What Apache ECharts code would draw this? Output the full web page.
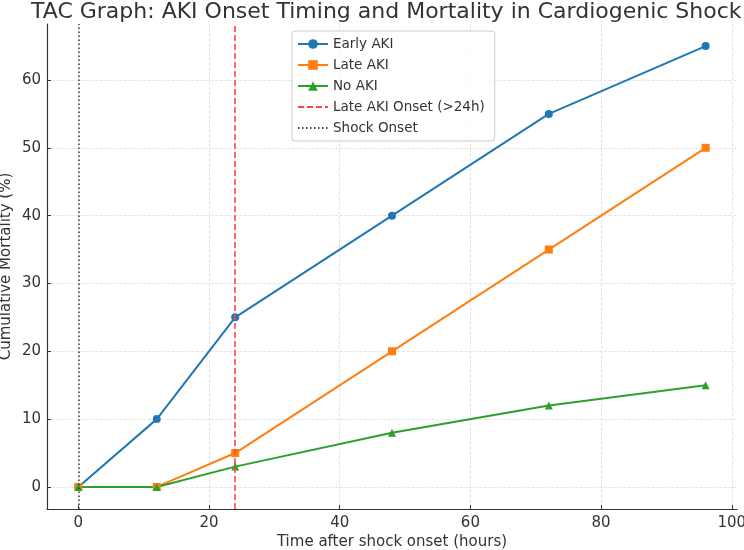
<!DOCTYPE html>
<html>
<head>
<meta charset="utf-8">
<script src="https://cdn.jsdelivr.net/npm/echarts@6/dist/echarts.min.js"></script>
<style>
  html, body { margin: 0; padding: 0; background: #fff; }
  #chart { width: 744px; height: 550px; }
</style>
</head>
<body>
<div id="chart"></div>
<script>
// values
const hours = [0, 12, 24, 48, 72, 96];
const earlyAki = [0, 10, 25, 40, 55, 65];
const lateAki = [0, 0, 5, 20, 35, 50];
const noAki = [0, 0, 3, 8, 12, 15];
const xTicks = [0, 20, 40, 60, 80, 100];
const yTicks = [0, 10, 20, 30, 40, 50, 60];
const lateOnsetHour = 24;
const shockOnsetHour = 0;

const font = 'DejaVu Sans';
const pairs = function (ys) {
    return hours.map((h, i) => [h, ys[i]]);
};

let chart = echarts.init(document.getElementById('chart'));

const lineSeries = function (name, ys, color, symbol, size) {
    return {
        name: name,
        type: 'line',
        data: pairs(ys),
        symbol: symbol,
        symbolSize: size,
        lineStyle: { color: color, width: 2 },
        itemStyle: { color: color },
        z: 3
    };
};

const vLine = function (name, x, color, type) {
    return {
        name: name,
        type: 'line',
        data: [],
        symbol: 'none',
        lineStyle: { color: color, width: 1.6, type: type },
        itemStyle: { color: color },
        markLine: {
            silent: true,
            symbol: 'none',
            label: { show: false },
            lineStyle: { color: color, width: 1.6, type: type },
            data: [{ xAxis: x }]
        },
        z: 4
    };
};

const hiddenSymbol = { opacity: 0 };

let option = {
    animation: false,
    title: {
        text: 'TAC Graph: AKI Onset Timing and Mortality in Cardiogenic Shock',
        left: 26,
        top: -4,
        textStyle: { fontFamily: font, fontSize: 22, fontWeight: 'normal', color: '#333' }
    },
    legend: {
        orient: 'vertical',
        left: 292,
        top: 31,
        padding: [6, 10, 6, 5],
        itemGap: 7,
        itemWidth: 30,
        itemHeight: 12,
        backgroundColor: 'rgba(255,255,255,0.8)',
        borderColor: '#ccc',
        borderWidth: 1,
        borderRadius: 3,
        textStyle: { fontFamily: font, fontSize: 13.5, color: '#333' },
        data: [
            'Early AKI',
            'Late AKI',
            'No AKI',
            { name: 'Late AKI Onset (>24h)', itemStyle: hiddenSymbol },
            { name: 'Shock Onset', itemStyle: hiddenSymbol }
        ]
    },
    grid: { left: 47, right: 7, top: 24, bottom: 41, containLabel: false, outerBoundsMode: 'none' },
    xAxis: {
        type: 'value',
        min: -4.8,
        max: 100.8,
        name: 'Time after shock onset (hours)',
        nameLocation: 'middle',
        nameGap: 26,
        nameMoveOverlap: false,
        nameTextStyle: { fontFamily: font, fontSize: 15, color: '#333' },
        axisLine: { onZero: false, lineStyle: { color: '#333', width: 1.2 } },
        axisTick: { inside: true, length: 4, customValues: xTicks, lineStyle: { color: '#333' } },
        axisLabel: { customValues: xTicks, fontFamily: font, fontSize: 15, color: '#333', margin: 7 },
        splitLine: { show: true, lineStyle: { color: '#ddd', type: 'dashed', width: 0.8 } }
    },
    yAxis: {
        type: 'value',
        min: -3.25,
        max: 68.25,
        name: 'Cumulative Mortality (%)',
        nameLocation: 'middle',
        nameGap: 33,
        nameMoveOverlap: false,
        nameTextStyle: { fontFamily: font, fontSize: 15, color: '#333' },
        axisLine: { show: true, onZero: false, lineStyle: { color: '#333', width: 1.2 } },
        axisTick: { show: true, inside: true, length: 4, customValues: yTicks, lineStyle: { color: '#333' } },
        axisLabel: { customValues: yTicks, fontFamily: font, fontSize: 15, color: '#333', margin: 6 },
        splitLine: { show: true, lineStyle: { color: '#ddd', type: 'dashed', width: 0.8 } }
    },
    series: [
        lineSeries('Early AKI', earlyAki, '#1f77b4', 'circle', 8),
        lineSeries('Late AKI', lateAki, '#ff7f0e', 'rect', 8),
        lineSeries('No AKI', noAki, '#2ca02c', 'triangle', 8),
        vLine('Late AKI Onset (>24h)', lateOnsetHour, '#f44', [6, 3]),
        vLine('Shock Onset', shockOnsetHour, '#444', [1.5, 2.5])
    ]
};
chart.setOption(option);
</script>
</body>
</html>
